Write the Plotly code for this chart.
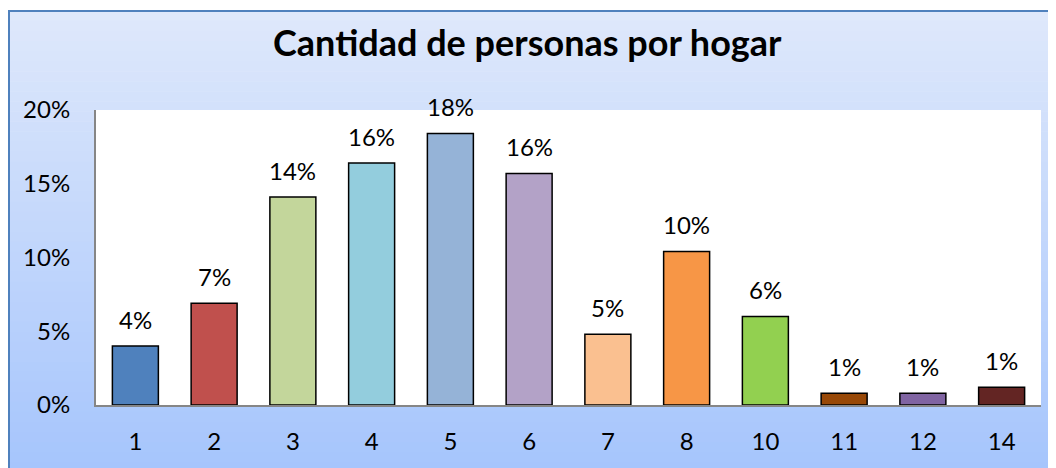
import plotly.graph_objects as go

# ---- data ----
categories = ["1", "2", "3", "4", "5", "6", "7", "8", "10", "11", "12", "14"]
shares = [0.040, 0.069, 0.141, 0.164, 0.184, 0.157, 0.048, 0.104, 0.060, 0.008, 0.008, 0.012]
labels = ["4%", "7%", "14%", "16%", "18%", "16%", "5%", "10%", "6%", "1%", "1%", "1%"]
bar_colors = ["#4f81bd", "#c0504d", "#c3d69b", "#93cddd", "#95b3d7", "#b3a2c7",
              "#fac090", "#f79646", "#92d050", "#984807", "#8064a2", "#632523"]
y_ticks = [0, 0.05, 0.10, 0.15, 0.20]
y_tick_text = ["0%", "5%", "10%", "15%", "20%"]
title_text = "Cantidad de personas por hogar"

# the page has an 8px body margin, so the figure is drawn 8px smaller and
# all page-pixel positions below are converted with OFF
OFF = 8
W, H = 1056 - OFF, 468 - OFF
L, R, T, B = 96 - OFF, 15, 110 - OFF, 63
PW, PH = W - L - R, H - T - B

def px_x(p):  # page pixel -> paper x
    return (p - OFF - L) / PW

def px_y(p):  # page pixel -> paper y
    return (H - B - (p - OFF)) / PH

FONT = "Lato"
FS = 24

fig = go.Figure()
fig.add_trace(go.Bar(
    x=categories, y=shares,
    marker=dict(color=bar_colors, line=dict(color="#000000", width=1.5)),
    hoverinfo="x+y",
))

shapes = []
# gradient frame built from thin horizontal bands
top_c = (222, 232, 251)
bot_c = (166, 197, 252)
y_start, y_end = 11, 472
n = 46
step = (y_end - y_start) / n
for i in range(n):
    t = i / (n - 1)
    c = tuple(round(top_c[k] + (bot_c[k] - top_c[k]) * t) for k in range(3))
    shapes.append(dict(type="rect", xref="paper", yref="paper", layer="below",
                       x0=px_x(9), x1=px_x(1070),
                       y0=px_y(y_start + i * step), y1=px_y(y_start + (i + 1) * step + 0.6),
                       line=dict(width=0), fillcolor="rgb(%d,%d,%d)" % c))
# frame border
shapes.append(dict(type="rect", xref="paper", yref="paper", layer="below",
                   x0=px_x(9), x1=px_x(1075), y0=px_y(11), y1=px_y(480),
                   line=dict(color="#4f81bd", width=2), fillcolor="rgba(0,0,0,0)"))
# white plot area
shapes.append(dict(type="rect", xref="paper", yref="paper", layer="below",
                   x0=0, x1=1, y0=0, y1=1, line=dict(width=0), fillcolor="#ffffff"))

annotations = []
for i, (v, lab) in enumerate(zip(shares, labels)):
    annotations.append(dict(x=i, y=v, xref="x", yref="y", text=lab, showarrow=False,
                            yanchor="middle", yshift=27,
                            font=dict(family=FONT, size=FS, color="#000000")))
# title
annotations.append(dict(x=px_x(527), y=px_y(42), xref="paper", yref="paper",
                        text="<b>%s</b>" % title_text, showarrow=False,
                        xanchor="center", yanchor="middle",
                        font=dict(family=FONT, size=36, color="#000000")))

fig.update_layout(
    width=W, height=H,
    margin=dict(l=L, r=R, t=T, b=B, pad=0, autoexpand=False),
    paper_bgcolor="#ffffff", plot_bgcolor="#ffffff",
    bargap=0.416,
    showlegend=False,
    shapes=shapes,
    annotations=annotations,
    font=dict(family=FONT, size=FS, color="#000000"),
    xaxis=dict(type="category", showgrid=False, showline=True, linecolor="#868686",
               linewidth=2, ticks="", ticklabelstandoff=14, zeroline=False, automargin=False,
               tickfont=dict(family=FONT, size=FS, color="#000000")),
    yaxis=dict(range=[0, 0.20], tickvals=y_ticks, ticktext=y_tick_text, showgrid=False,
               showline=True, linecolor="#868686", linewidth=2, ticks="", automargin=False,
               ticklabelstandoff=19, zeroline=False,
               tickfont=dict(family=FONT, size=FS, color="#000000")),
)

fig.write_html("out.html")
